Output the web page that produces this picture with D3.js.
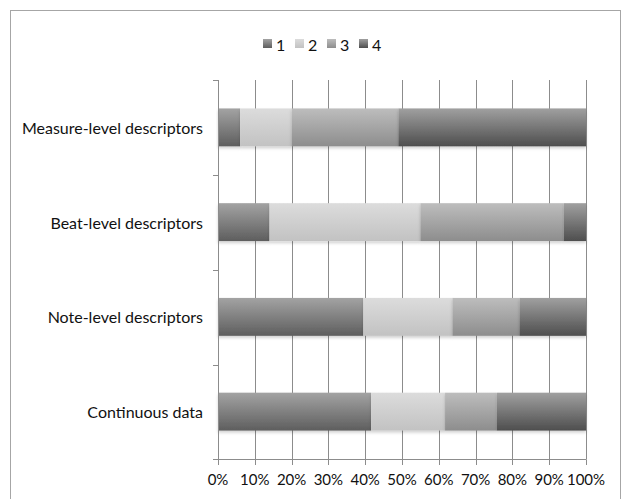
<!DOCTYPE html>
<html>
<head>
<meta charset="utf-8">
<script src="https://cdn.jsdelivr.net/npm/d3@7"></script>
<style>
  html, body { margin: 0; padding: 0; background: #fff; }
  svg { display: block; }
  text { font-family: Lato, "Open Sans", sans-serif; fill: #111; }
</style>
</head>
<body>
<svg id="chart" width="627" height="499"></svg>
<script>
// Categories, top to bottom
const categories = ["Measure-level descriptors", "Beat-level descriptors", "Note-level descriptors", "Continuous data"];
// Series names
const seriesNames = ["1", "2", "3", "4"];
// Share (%) of each series per category
const s1 = [6, 14, 39.5, 41.6];
const s2 = [14, 41, 24.2, 20.1];
const s3 = [29, 39, 18.2, 14.1];
const s4 = [51, 6, 18.1, 24.2];
const tickValues = [0, 0.1, 0.2, 0.3, 0.4, 0.5, 0.6, 0.7, 0.8, 0.9, 1];

// Vertical gradient stops (top, bottom) for each series
const shades = [
  ["#a3a3a3", "#5e5e5e"],
  ["#dcdcdc", "#c2c2c2"],
  ["#bdbdbd", "#8d8d8d"],
  ["#a0a0a0", "#4e4e4e"]
];

const svg = d3.select("#chart");

// Outer frame
svg.append("rect").attr("x", 10.5).attr("y", 10.5).attr("width", 610).attr("height", 500)
  .attr("fill", "none").attr("stroke", "#a6a6a6").attr("stroke-width", 1);

const x = d3.scaleLinear().domain([0, 1]).range([218, 586]);
const y = d3.scaleBand().domain(categories).range([80, 459]).paddingInner(0.6).paddingOuter(0.3);

const defs = svg.append("defs");
shades.forEach((s, i) => {
  const g = defs.append("linearGradient").attr("id", "grad" + i)
    .attr("x1", 0).attr("y1", 0).attr("x2", 0).attr("y2", 1);
  g.append("stop").attr("offset", "0%").attr("stop-color", s[0]);
  g.append("stop").attr("offset", "100%").attr("stop-color", s[1]);
});
const f = defs.append("filter").attr("id", "shadow").attr("x", "-5%").attr("y", "-20%").attr("width", "110%").attr("height", "160%");
f.append("feDropShadow").attr("dx", 0).attr("dy", 2).attr("stdDeviation", 1.5).attr("flood-color", "#000").attr("flood-opacity", 0.18);

// Vertical gridlines
svg.append("g").selectAll("line").data(tickValues.slice(1)).join("line")
  .attr("x1", d => Math.round(x(d)) + 0.5).attr("x2", d => Math.round(x(d)) + 0.5)
  .attr("y1", 80).attr("y2", 459)
  .attr("stroke", "#8c8c8c").attr("stroke-width", 1);

// Stacked data
const rows = categories.map((c, i) => ({ cat: c, "1": s1[i], "2": s2[i], "3": s3[i], "4": s4[i] }));
const stack = d3.stack().keys(seriesNames).offset(d3.stackOffsetExpand);
const layers = stack(rows);

const barG = svg.append("g");
layers.forEach((layer, i) => {
  barG.append("g").selectAll("rect").data(layer).join("rect")
    .attr("x", d => x(d[0]))
    .attr("width", d => x(d[1]) - x(d[0]))
    .attr("y", d => y(d.data.cat))
    .attr("height", y.bandwidth())
    .attr("fill", `url(#grad${i})`)
    .attr("filter", "url(#shadow)");
});

// Category axis (left)
const yAxisBounds = [80, 175, 270, 364.5, 459];
const yAxis = svg.append("g");
yAxis.append("line").attr("x1", 218.5).attr("x2", 218.5).attr("y1", 80).attr("y2", 459)
  .attr("stroke", "#8c8c8c");
yAxis.selectAll("line.t").data(yAxisBounds).join("line").attr("class", "t")
  .attr("x1", 213).attr("x2", 218.5)
  .attr("y1", d => Math.round(d) + 0.5).attr("y2", d => Math.round(d) + 0.5)
  .attr("stroke", "#8c8c8c");
yAxis.selectAll("text").data(categories).join("text")
  .attr("x", 203).attr("y", d => y(d) + y.bandwidth() / 2)
  .attr("text-anchor", "end").attr("dominant-baseline", "central")
  .attr("font-size", 16).text(d => d);

// Value axis (bottom)
const xAxis = svg.append("g");
xAxis.append("line").attr("x1", 213).attr("x2", 586.5).attr("y1", 459.5).attr("y2", 459.5)
  .attr("stroke", "#8c8c8c");
xAxis.selectAll("line.t").data(tickValues).join("line").attr("class", "t")
  .attr("x1", d => Math.round(x(d)) + 0.5).attr("x2", d => Math.round(x(d)) + 0.5)
  .attr("y1", 459.5).attr("y2", 465)
  .attr("stroke", "#8c8c8c");
xAxis.selectAll("text").data(tickValues).join("text")
  .attr("x", d => x(d)).attr("y", 479)
  .attr("text-anchor", "middle").attr("dominant-baseline", "central")
  .attr("font-size", 15).text(d => d3.format(".0%")(d));

// Legend
const legendX = [263, 295, 327, 359];
const lg = svg.append("g");
seriesNames.forEach((n, i) => {
  lg.append("rect").attr("x", legendX[i]).attr("y", 39).attr("width", 9).attr("height", 9)
    .attr("fill", `url(#grad${i})`);
  lg.append("text").attr("x", legendX[i] + 13).attr("y", 44).attr("dominant-baseline", "central")
    .attr("font-size", 16).text(n);
});
</script>
</body>
</html>
